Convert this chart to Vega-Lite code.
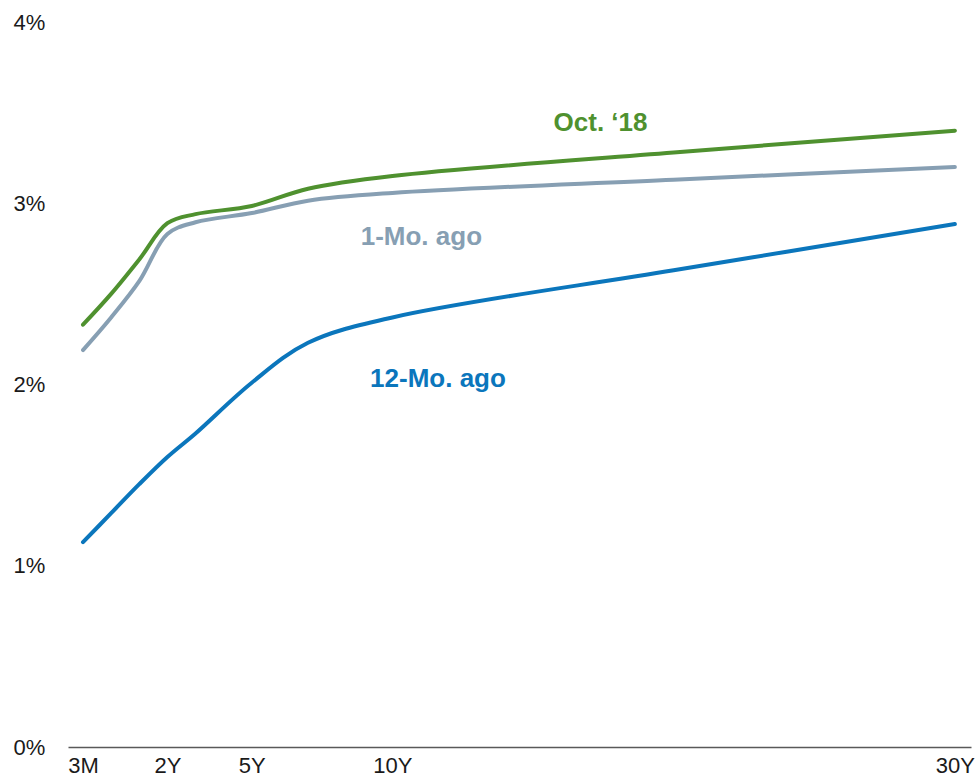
{
  "$schema": "https://vega.github.io/schema/vega-lite/v6.json",
  "autosize": {"type": "none"},
  "padding": {"left": 68, "top": 22, "right": 8, "bottom": 33},
  "width": 903,
  "height": 725,
  "background": "white",
  "config": {"view": {"stroke": null}, "font": "Liberation Sans"},
  "datasets": {
    "curves": [
      {"series": "Oct. ‘18", "maturity": 0.25, "yield": 2.33},
      {"series": "Oct. ‘18", "maturity": 0.5, "yield": 2.50},
      {"series": "Oct. ‘18", "maturity": 1, "yield": 2.69},
      {"series": "Oct. ‘18", "maturity": 2, "yield": 2.89},
      {"series": "Oct. ‘18", "maturity": 3, "yield": 2.94},
      {"series": "Oct. ‘18", "maturity": 5, "yield": 2.985},
      {"series": "Oct. ‘18", "maturity": 7, "yield": 3.08},
      {"series": "Oct. ‘18", "maturity": 10, "yield": 3.15},
      {"series": "Oct. ‘18", "maturity": 20, "yield": 3.28},
      {"series": "Oct. ‘18", "maturity": 30, "yield": 3.40},
      {"series": "1-Mo. ago", "maturity": 0.25, "yield": 2.19},
      {"series": "1-Mo. ago", "maturity": 0.5, "yield": 2.37},
      {"series": "1-Mo. ago", "maturity": 1, "yield": 2.57},
      {"series": "1-Mo. ago", "maturity": 2, "yield": 2.83},
      {"series": "1-Mo. ago", "maturity": 3, "yield": 2.895},
      {"series": "1-Mo. ago", "maturity": 5, "yield": 2.946},
      {"series": "1-Mo. ago", "maturity": 7, "yield": 3.014},
      {"series": "1-Mo. ago", "maturity": 10, "yield": 3.057},
      {"series": "1-Mo. ago", "maturity": 20, "yield": 3.13},
      {"series": "1-Mo. ago", "maturity": 30, "yield": 3.20},
      {"series": "12-Mo. ago", "maturity": 0.25, "yield": 1.13},
      {"series": "12-Mo. ago", "maturity": 0.5, "yield": 1.29},
      {"series": "12-Mo. ago", "maturity": 1, "yield": 1.45},
      {"series": "12-Mo. ago", "maturity": 2, "yield": 1.60},
      {"series": "12-Mo. ago", "maturity": 3, "yield": 1.73},
      {"series": "12-Mo. ago", "maturity": 5, "yield": 2.01},
      {"series": "12-Mo. ago", "maturity": 7, "yield": 2.23},
      {"series": "12-Mo. ago", "maturity": 10, "yield": 2.37},
      {"series": "12-Mo. ago", "maturity": 20, "yield": 2.63},
      {"series": "12-Mo. ago", "maturity": 30, "yield": 2.885}
    ],
    "labels": [
      {"series": "Oct. ‘18", "maturity": 17.4, "yield": 3.40},
      {"series": "1-Mo. ago", "maturity": 11.03, "yield": 2.77},
      {"series": "12-Mo. ago", "maturity": 11.62, "yield": 1.986}
    ]
  },
  "layer": [
    {
      "data": {"name": "curves"},
      "mark": {"type": "line", "interpolate": "catmull-rom", "strokeWidth": 4, "strokeCap": "round"},
      "encoding": {
        "x": {
          "field": "maturity", "type": "quantitative",
          "scale": {"domain": [0.117, 0.25, 0.5, 1, 2, 30, 30.57], "range": [0, 15, 43.13, 71.26, 99.39, 886.9, 903], "zero": false, "nice": false},
          "axis": {
            "values": [0.25, 2, 5, 10, 30],
            "labelExpr": "datum.value == 0.25 ? '3M' : datum.value + 'Y'",
            "title": null, "ticks": false, "grid": false,
            "domainColor": "#595959", "domainWidth": 1.5,
            "labelFontSize": 22, "labelColor": "#1a1a1a", "labelPadding": 8,
            "labelFont": "Liberation Sans", "labelFlush": false, "labelOverlap": false
          }
        },
        "y": {
          "field": "yield", "type": "quantitative",
          "scale": {"domain": [0, 4], "nice": false, "zero": false},
          "axis": {
            "values": [0, 1, 2, 3, 4],
            "labelExpr": "datum.value + '%'",
            "title": null, "ticks": false, "grid": false, "domain": false,
            "labelAlign": "left", "labelPadding": 55, "labelBaseline": "middle",
            "labelFontSize": 22, "labelColor": "#1a1a1a", "labelFont": "Liberation Sans"
          }
        },
        "color": {
          "field": "series", "type": "nominal", "legend": null,
          "scale": {"domain": ["Oct. ‘18", "1-Mo. ago", "12-Mo. ago"], "range": ["#4f912f", "#879fb3", "#0b76bc"]}
        },
        "detail": {"field": "series"}
      }
    },
    {
      "data": {"name": "labels"},
      "mark": {"type": "text", "fontSize": 26, "fontWeight": "bold", "font": "Liberation Sans", "align": "center", "baseline": "alphabetic"},
      "encoding": {
        "x": {"field": "maturity", "type": "quantitative"},
        "y": {"field": "yield", "type": "quantitative"},
        "text": {"field": "series"},
        "color": {"field": "series", "type": "nominal", "legend": null}
      }
    }
  ]
}
